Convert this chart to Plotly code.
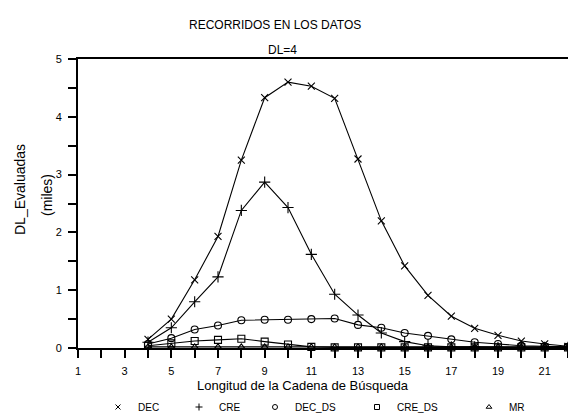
import plotly.graph_objects as go

longitud = [4, 5, 6, 7, 8, 9, 10, 11, 12, 13, 14, 15, 16, 17, 18, 19, 20, 21, 22]
dec = [0.15, 0.50, 1.18, 1.93, 3.25, 4.33, 4.60, 4.53, 4.32, 3.27, 2.20, 1.42, 0.91, 0.55, 0.34, 0.22, 0.12, 0.07, 0.03]
cre = [0.10, 0.35, 0.80, 1.23, 2.38, 2.87, 2.43, 1.62, 0.93, 0.57, 0.26, 0.11, 0.04, 0.02, 0.02, 0.01, 0.01, 0.01, 0.01]
dec_ds = [0.07, 0.17, 0.32, 0.39, 0.48, 0.49, 0.49, 0.50, 0.51, 0.40, 0.35, 0.26, 0.21, 0.15, 0.10, 0.07, 0.04, 0.03, 0.02]
cre_ds = [0.04, 0.08, 0.12, 0.14, 0.16, 0.11, 0.06, 0.02, 0.01, 0.01, 0.01, 0.01, 0.01, 0.01, 0.01, 0.01, 0.01, 0.01, 0.01]
mr = [0.02, 0.02, 0.02, 0.02, 0.02, 0.02, 0.02, 0.02, 0.02, 0.02, 0.02, 0.02, 0.02, 0.02, 0.02, 0.02, 0.02, 0.02, 0.02]

series = [
    ("DEC", dec, "x-thin-open", 7),
    ("CRE", cre, "cross-thin-open", 8),
    ("DEC_DS", dec_ds, "circle-open", 7),
    ("CRE_DS", cre_ds, "square-open", 7),
    ("MR", mr, "triangle-up-open", 6),
]
# pixel x where each legend label starts in the reference
legend_text_px = [132, 213, 289, 391, 503]

FONT = "Liberation Sans, Arial, sans-serif"
L, T, W, H = 78, 59, 490, 289

fig = go.Figure()
for name, vals, sym, sz in series:
    fig.add_trace(go.Scatter(
        x=longitud, y=vals, name=name, mode="lines+markers",
        line=dict(color="black", width=1.1),
        marker=dict(symbol=sym, size=sz, color="black", line=dict(color="black", width=1.1)),
        showlegend=False, cliponaxis=False,
    ))
# legend-only entries (marker symbol without line, as in the reference legend)
for i, (name, vals, sym, sz) in enumerate(series):
    lg = "legend" if i == 0 else f"legend{i+1}"
    fig.add_trace(go.Scatter(
        x=[None], y=[None], name=name, mode="markers",
        marker=dict(symbol=sym, size=5, color="black", line=dict(color="black", width=1)),
        legend=lg, showlegend=True, hoverinfo="skip",
    ))

layout_legends = {}
for i, px in enumerate(legend_text_px):
    key = "legend" if i == 0 else f"legend{i+1}"
    layout_legends[key] = dict(
        x=(px - 34 - L) / W, y=-(407 - 348) / H, xanchor="left", yanchor="middle",
        orientation="h",
        font=dict(family=FONT, size=10, color="black"), bgcolor="rgba(0,0,0,0)",
        itemwidth=30, tracegroupgap=0, borderwidth=0,
    )

fig.update_layout(
    width=568, height=419,
    margin=dict(l=L, r=0, t=T, b=419 - T - H, autoexpand=False),
    plot_bgcolor="white", paper_bgcolor="white",
    font=dict(family=FONT, size=10, color="black"),
    showlegend=True,
    **layout_legends,
)
fig.update_xaxes(
    range=[1, 22], tickvals=[1, 3, 5, 7, 9, 11, 13, 15, 17, 19, 21],
    ticks="outside", ticklen=8, tickwidth=1.5, tickcolor="black", ticklabelstandoff=4,
    minor=dict(dtick=1, tick0=0, ticks="outside", ticklen=8, tickwidth=1.5, tickcolor="black"),
    showline=True, linecolor="black", linewidth=2, mirror=True,
    showgrid=False, zeroline=False, automargin=False,
    tickfont=dict(family=FONT, size=11, color="black"),
)
fig.update_yaxes(
    range=[0, 5], tickvals=[0, 1, 2, 3, 4, 5],
    ticks="outside", ticklen=8, tickwidth=1.5, tickcolor="black", ticklabelstandoff=4,
    minor=dict(dtick=0.5, tick0=0, ticks="outside", ticklen=8, tickwidth=1.5, tickcolor="black"),
    showline=True, linecolor="black", linewidth=2,
    showgrid=False, zeroline=False, automargin=False,
    tickfont=dict(family=FONT, size=11, color="black"),
)

def note(text, px, py, size, angle=0):
    fig.add_annotation(text=text, xref="paper", yref="paper",
                       x=(px - L) / W, y=(348 - py) / H, xanchor="center", yanchor="middle",
                       showarrow=False, textangle=angle,
                       font=dict(family=FONT, size=size, color="black"))

note("RECORRIDOS EN LOS DATOS", 275, 25, 12)
note("DL=4", 282, 50, 12)
note("Longitud de la Cadena de Búsqueda", 303, 385, 13)
note("DL_Evaluadas", 20, 190, 14, -90)
note("(miles)", 47, 195, 14, -90)

fig.write_html("out.html", config={"displayModeBar": False},
               post_script="document.body.style.margin='0';document.body.style.overflow='hidden';")
